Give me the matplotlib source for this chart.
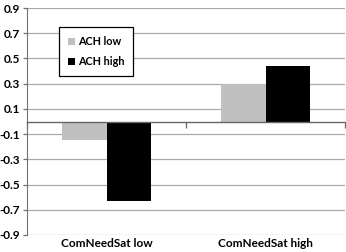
import matplotlib.pyplot as plt
import numpy as np

categories = ["ComNeedSat low", "ComNeedSat high"]
series_names = ["ACH low", "ACH high"]
ach_low = [-0.15, 0.30]
ach_high = [-0.63, 0.44]
y_ticks = [0.9, 0.7, 0.5, 0.3, 0.1, -0.1, -0.3, -0.5, -0.7, -0.9]

plt.rcParams["font.family"] = ["Lato", "DejaVu Sans"]
plt.rcParams["font.weight"] = "bold"

fig = plt.figure(figsize=(3.46, 2.52), dpi=100)
ax = fig.add_axes([0.078, 0.0675, 0.92, 0.9005])

x = np.arange(len(categories))
width = 0.28
ax.bar(x - width / 2, ach_low, width, color="#c0c0c0", label=series_names[0], zorder=3)
ax.bar(x + width / 2, ach_high, width, color="black", label=series_names[1], zorder=3)

ax.set_xlim(-0.5, len(categories) - 0.5)
ax.set_ylim(-0.9, 0.9)
ax.set_yticks(y_ticks)
ax.set_yticklabels([f"{v:.1f}" for v in y_ticks], fontsize=8.5, fontweight="bold")
ax.yaxis.grid(True, color="#ababab", linewidth=0.9, zorder=0)
ax.tick_params(axis="y", length=3, width=0.9, color="#707070", pad=2)

# zero line with category boundary ticks, labels at the bottom
ax.spines["bottom"].set_position(("data", 0))
ax.spines["bottom"].set_color("#666666")
ax.spines["bottom"].set_linewidth(1.0)
ax.spines["bottom"].set_zorder(4)
ax.set_xticks(np.arange(len(categories) + 1) - 0.5)
ax.set_xticklabels([])
ax.tick_params(axis="x", length=4, width=0.9, color="#666666")
for xi, name in zip(x, categories):
    ax.text(xi, -0.015, name, transform=ax.get_xaxis_transform(), ha="center", va="top",
            fontsize=8.5, fontweight="bold")

ax.spines["left"].set_color("#707070")
ax.spines["top"].set_visible(False)
ax.spines["right"].set_visible(False)

leg = ax.legend(loc="upper left", bbox_to_anchor=(0.1, 0.918), fontsize=7.8,
                frameon=True, fancybox=False, edgecolor="black", framealpha=1,
                handlelength=0.6, handleheight=0.6, handletextpad=0.3,
                borderpad=0.85, labelspacing=0.85, borderaxespad=0)
leg.get_frame().set_linewidth(0.9)

fig.savefig("out.png", dpi=100)
